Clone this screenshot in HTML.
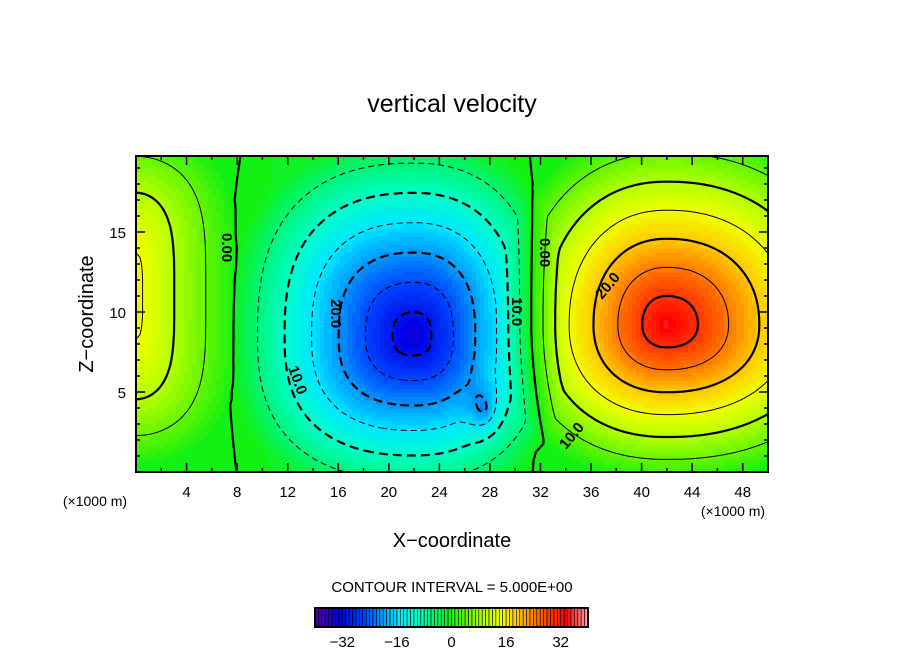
<!DOCTYPE html>
<html><head><meta charset="utf-8"><style>
body{margin:0;background:#fff;}
#wrap{position:relative;width:904px;height:654px;font-family:"Liberation Sans",sans-serif;}
</style></head><body>
<div id="wrap">
<svg id="svg" width="904" height="654" xmlns="http://www.w3.org/2000/svg">
<text x="452" y="112" font-size="25" text-anchor="middle" font-family="Liberation Sans, sans-serif">vertical velocity</text>
<g id="field"></g>
<g id="contours"></g>
<g font-family="Liberation Sans, sans-serif" font-size="15" font-weight="bold">
<text x="0" y="0" transform="translate(222,233) rotate(90)">0.00</text>
<text x="0" y="0" transform="translate(540,238) rotate(90)">0.00</text>
<text x="0" y="0" transform="translate(331,299) rotate(90)">20.0</text>
<text x="0" y="0" transform="translate(288,368) rotate(70)">10.0</text>
<text x="0" y="0" transform="translate(512,297) rotate(90)">10.0</text>
<text x="0" y="0" transform="translate(602,300) rotate(-50)">20.0</text>
<text x="0" y="0" transform="translate(566,450) rotate(-50)">10.0</text>
</g>
<rect x="136" y="156" width="632" height="316" fill="none" stroke="#000" stroke-width="2"/>
<g id="axes" font-family="Liberation Sans, sans-serif" font-size="15"></g>
<text x="452" y="547" font-size="20" text-anchor="middle" font-family="Liberation Sans, sans-serif">X−coordinate</text>
<text x="93" y="314" font-size="20" text-anchor="middle" font-family="Liberation Sans, sans-serif" transform="rotate(-90 93 314)">Z−coordinate</text>
<text x="95" y="506" font-size="14" text-anchor="middle" font-family="Liberation Sans, sans-serif">(×1000 m)</text>
<text x="733" y="516" font-size="14" text-anchor="middle" font-family="Liberation Sans, sans-serif">(×1000 m)</text>
<text x="452" y="592" font-size="15" text-anchor="middle" font-family="Liberation Sans, sans-serif">CONTOUR INTERVAL = 5.000E+00</text>
<g id="cbar"></g>
</svg>
</div>
<script>
const xTicks=[4,8,12,16,20,24,28,32,36,40,44,48];
const zTicks=[5,10,15];
const cbarTicks=[-32,-16,0,16,32];
const blobX=[0,22,27.5,42,22];
const blobZ=[11,8.5,4,9.2,9];
const blobAmp=[16,-31,-8,35,-3];
const blobSxL=[8,14.5,2.5,13.5,15];
const blobSxR=[8,12,2.5,17,10];
const blobSzB=[10.5,10,3,9.8,30];
const blobSzT=[10.5,12,3,12.5,30];
const blobNorm=[2,2.6,2,2.2,2];
const blobPz=[2,1,1,1,1];
const blobQ=[1,1,2,1,1];
const BG_OFFSET=0.05;
const contourLevels=[-30,-25,-20,-15,-10,-5,0,5,10,15,20,25,30];
const NS='http://www.w3.org/2000/svg';
const X0=136,X1=768,Y0=472,Y1=156,XMAX=50,ZMAX=19.75;
const sx=x=>X0+(X1-X0)*x/XMAX, sz=z=>Y0-(Y0-Y1)*z/ZMAX;
function field(x,z){let v=BG_OFFSET;for(let i=0;i<blobX.length;i++){const dx=x-blobX[i],dz=z-blobZ[i];const tx=Math.abs(dx/(dx<0?blobSxL[i]:blobSxR[i]));const tz=Math.pow(Math.abs(dz/(dz<0?blobSzB[i]:blobSzT[i])),blobPz[i]);const n=blobNorm[i];const s=Math.pow(Math.pow(tx,n)+Math.pow(tz,n),1/n);v+=blobAmp[i]*Math.pow(Math.max(0,1-s),blobQ[i]);}return v;}
const stops=[[-40,[90,0,150]],[-32,[0,0,230]],[-25,[0,70,255]],[-20,[0,150,255]],[-15,[0,230,255]],[-10,[0,255,200]],[-5,[0,245,120]],[0,[20,240,20]],[5,[100,245,0]],[10,[180,255,0]],[15,[240,255,0]],[20,[255,200,0]],[25,[255,120,0]],[30,[255,50,0]],[34,[255,0,0]],[40,[255,150,150]]];
function color(v){v=Math.max(-40,Math.min(40,Math.round(v)));for(let i=0;i<stops.length-1;i++){const a=stops[i],b=stops[i+1];if(v<=b[0]){const t=(v-a[0])/(b[0]-a[0]);const c=a[1].map((q,k)=>Math.round(q+(b[1][k]-q)*t));return 'rgb('+c.join(',')+')';}}return 'rgb(255,150,150)';}
const fg=document.getElementById('field');
const NX=158,NZ=79,cw=(X1-X0)/NX,ch=(Y0-Y1)/NZ;
const grid=[];
for(let j=0;j<=NZ;j++){grid.push([]);for(let i=0;i<=NX;i++)grid[j].push(field(i*XMAX/NX,j*ZMAX/NZ));}
for(let j=0;j<NZ;j++)for(let i=0;i<NX;i++){
 const v=field((i+0.5)*XMAX/NX,(j+0.5)*ZMAX/NZ);
 const r=document.createElementNS(NS,'rect');
 r.setAttribute('x',(X0+i*cw).toFixed(2));r.setAttribute('y',(Y0-(j+1)*ch).toFixed(2));
 r.setAttribute('width',(cw+0.6).toFixed(2));r.setAttribute('height',(ch+0.6).toFixed(2));
 r.setAttribute('fill',color(v));
 
 
 fg.appendChild(r);
}
const cg=document.getElementById('contours');
contourLevels.forEach(L=>{
 const segs=[];
 const P=(i,j)=>[X0+i*cw,Y0-j*ch];
 for(let j=0;j<NZ;j++){
  for(let i=0;i<NX;i++){
   const a=grid[j][i],b=grid[j][i+1],c=grid[j+1][i+1],e=grid[j+1][i];
   const pts=[];
   const ed=(v1,v2,p1,p2)=>{if((v1-L)*(v2-L)<0){const t=(L-v1)/(v2-v1);pts.push([p1[0]+(p2[0]-p1[0])*t,p1[1]+(p2[1]-p1[1])*t]);}};
   ed(a,b,P(i,j),P(i+1,j));ed(b,c,P(i+1,j),P(i+1,j+1));ed(c,e,P(i+1,j+1),P(i,j+1));ed(e,a,P(i,j+1),P(i,j));
   for(let k=0;k+1<pts.length;k+=2)segs.push([pts[k],pts[k+1]]);
  }
 }
 const key=p=>p[0].toFixed(2)+','+p[1].toFixed(2);
 const map={};
 segs.forEach((s,idx)=>{[0,1].forEach(e=>{const k=key(s[e]);(map[k]=map[k]||[]).push(idx);});});
 const used=new Array(segs.length).fill(false);
 let d='';
 for(let s0=0;s0<segs.length;s0++){
  if(used[s0])continue;
  used[s0]=true;
  let line=[segs[s0][0],segs[s0][1]];
  for(const dir of [1,0]){
   let growing=true;
   while(growing){
    growing=false;
    const end=dir?line[line.length-1]:line[0];
    const cand=map[key(end)]||[];
    for(const c of cand){if(used[c])continue;used[c]=true;const s=segs[c];const other=key(s[0])===key(end)?s[1]:s[0];if(dir)line.push(other);else line.unshift(other);growing=true;break;}
   }
  }
  d+='M'+line.map(p=>p[0].toFixed(1)+' '+p[1].toFixed(1)).join('L');
 }
 const p=document.createElementNS(NS,'path');
 p.setAttribute('d',d);p.setAttribute('fill','none');p.setAttribute('stroke','#000');
 p.setAttribute('stroke-width',L%10===0?2.2:1);
 if(L<0)p.setAttribute('stroke-dasharray',L%10===0?'9 5':'6 4');
 
 
 cg.appendChild(p);
});
const ax=document.getElementById('axes');
function txt(x,y,s,anchor,parent){const t=document.createElementNS(NS,'text');t.setAttribute('x',x);t.setAttribute('y',y);t.setAttribute('text-anchor',anchor);t.textContent=s;parent.appendChild(t);return t;}
function line(x1,y1,x2,y2,parent){const l=document.createElementNS(NS,'line');l.setAttribute('x1',x1);l.setAttribute('y1',y1);l.setAttribute('x2',x2);l.setAttribute('y2',y2);l.setAttribute('stroke','#000');l.setAttribute('stroke-width','1.5');parent.appendChild(l);return l;}
for(let v=2;v<XMAX;v+=2){const len=(v%4===0)?9:4;
 const l1=line(sx(v),472,sx(v),472-len,ax);
 
 
 const l2=line(sx(v),156,sx(v),156+len,ax);
 
 }
for(let v=1;v<ZMAX;v+=1){const len=(v%5===0)?9:4;
 const l1=line(136,sz(v),136+len,sz(v),ax);
 
 
 const l2=line(768,sz(v),768-len,sz(v),ax);
 
 }
xTicks.forEach(v=>{const t=txt(sx(v),497,String(v),'middle',ax);
 
 });
zTicks.forEach(v=>{const t=txt(126,sz(v)+6,String(v),'end',ax);
 
 });
const cb=document.getElementById('cbar');
const CB0=315,CB1=588,cbx=v=>CB0+(CB1-CB0)*(v+40)/80;
for(let v=-40;v<40;v++){const r=document.createElementNS(NS,'rect');r.setAttribute('x',cbx(v));r.setAttribute('y',608);r.setAttribute('width',(CB1-CB0)/80);r.setAttribute('height',19);r.setAttribute('fill',color(v+0.5));r.setAttribute('stroke','#000');r.setAttribute('stroke-width','0.6');
 
 
 cb.appendChild(r);}
const fr=document.createElementNS(NS,'rect');fr.setAttribute('x',CB0);fr.setAttribute('y',608);fr.setAttribute('width',CB1-CB0);fr.setAttribute('height',19);fr.setAttribute('fill','none');fr.setAttribute('stroke','#000');fr.setAttribute('stroke-width','2');


cb.appendChild(fr);
cbarTicks.forEach(v=>{const t=txt(cbx(v),647,v<0?'−'+(-v):String(v),'middle',cb);t.setAttribute('font-size','15');t.setAttribute('font-family','Liberation Sans, sans-serif');
 
 });
</script>
</body></html>
